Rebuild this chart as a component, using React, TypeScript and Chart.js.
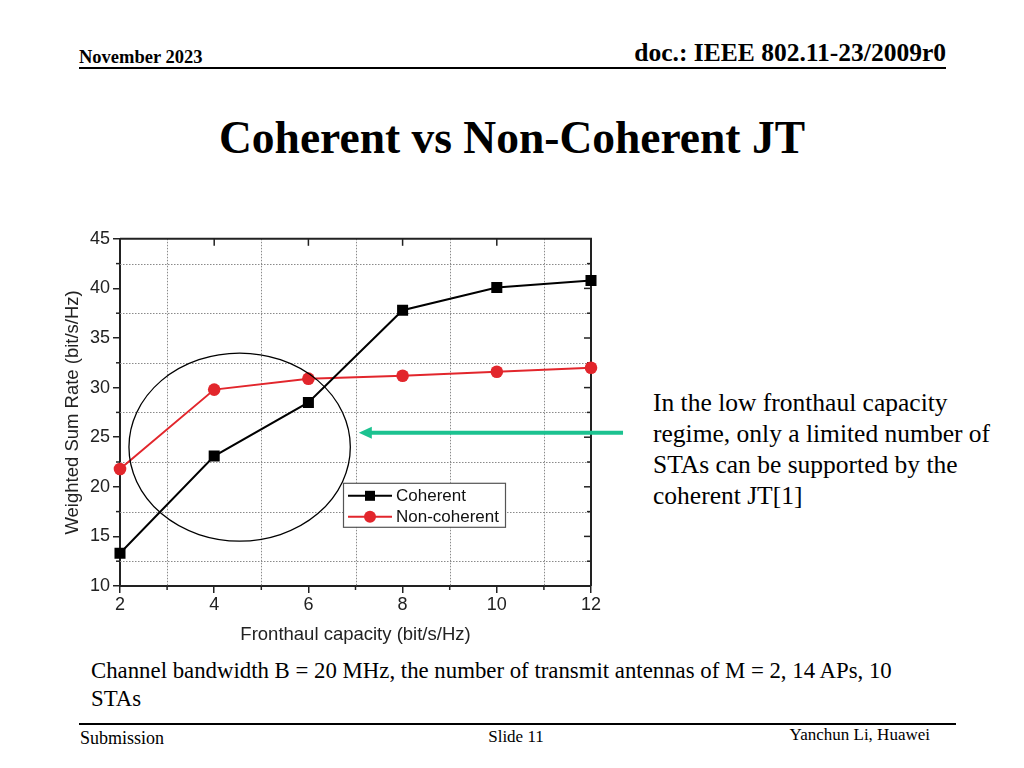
import React, { useEffect, useRef } from "react";
import { Chart, registerables } from "chart.js";

Chart.register(...registerables);

const xValues = [2, 4, 6, 8, 10, 12];
const coherent = [13.3, 23.1, 28.5, 37.8, 40.1, 40.8];
const nonCoherent = [21.8, 29.8, 30.9, 31.2, 31.6, 32.0];
const seriesLabels = ["Coherent", "Non-coherent"];
const xMinorGrid = [3, 5, 7, 9, 11];
const yMinorGrid = [12.5, 17.5, 22.5, 27.5, 32.5, 37.5, 42.5];
const xTitle = "Fronthaul capacity (bit/s/Hz)";
const yTitle = "Weighted Sum Rate (bit/s/Hz)";

const BLACK = "#000000";
const RED = "#e2262c";
const GREEN = "#1cc290";
const SANS = "'Liberation Sans', Arial, sans-serif";
const SERIF = "'Liberation Serif', 'Times New Roman', serif";

const decorPlugin = {
  id: "decor",
  beforeDatasetsDraw(chart: any) {
    const { ctx, chartArea } = chart;
    const xs = chart.scales.x;
    const ys = chart.scales.y;
    ctx.save();
    ctx.strokeStyle = "#8a8a8a";
    ctx.lineWidth = 1;
    ctx.setLineDash([1.5, 1.5]);
    xMinorGrid.forEach((v) => {
      const px = Math.round(xs.getPixelForValue(v)) + 0.5;
      ctx.beginPath();
      ctx.moveTo(px, chartArea.top);
      ctx.lineTo(px, chartArea.bottom);
      ctx.stroke();
    });
    yMinorGrid.forEach((v) => {
      const py = Math.round(ys.getPixelForValue(v)) + 0.5;
      ctx.beginPath();
      ctx.moveTo(chartArea.left, py);
      ctx.lineTo(chartArea.right, py);
      ctx.stroke();
    });
    ctx.setLineDash([]);
    ctx.strokeStyle = "#222";
    ctx.lineWidth = 2;
    ctx.beginPath();
    ctx.moveTo(chartArea.left, chartArea.top);
    ctx.lineTo(chartArea.right, chartArea.top);
    ctx.lineTo(chartArea.right, chartArea.bottom);
    ctx.stroke();
    ctx.lineWidth = 1.5;
    [4, 6, 8, 10].forEach((v) => {
      const px = xs.getPixelForValue(v);
      ctx.beginPath();
      ctx.moveTo(px, chartArea.top);
      ctx.lineTo(px, chartArea.top + 7);
      ctx.stroke();
    });
    xMinorGrid.forEach((v) => {
      const px = xs.getPixelForValue(v);
      ctx.beginPath();
      ctx.moveTo(px, chartArea.bottom);
      ctx.lineTo(px, chartArea.bottom + 4);
      ctx.stroke();
    });
    yMinorGrid.forEach((v) => {
      const py = ys.getPixelForValue(v);
      ctx.beginPath();
      ctx.moveTo(chartArea.left, py);
      ctx.lineTo(chartArea.left - 4, py);
      ctx.stroke();
      ctx.beginPath();
      ctx.moveTo(chartArea.right, py);
      ctx.lineTo(chartArea.right - 4, py);
      ctx.stroke();
    });
    [15, 20, 25, 30, 35, 40].forEach((v) => {
      const py = ys.getPixelForValue(v);
      ctx.beginPath();
      ctx.moveTo(chartArea.right, py);
      ctx.lineTo(chartArea.right - 7, py);
      ctx.stroke();
    });
    ctx.restore();
  },
  afterDraw(chart: any) {
    const { ctx, chartArea } = chart;
    const xs = chart.scales.x;
    const ys = chart.scales.y;
    ctx.save();
    const bx = chartArea.left + 223;
    const by = chartArea.top + 244;
    const bw = 162;
    const bh = 44;
    ctx.fillStyle = "#fff";
    ctx.fillRect(bx, by, bw, bh);
    ctx.strokeStyle = "#555";
    ctx.lineWidth = 1.2;
    ctx.strokeRect(bx + 0.5, by + 0.5, bw, bh);
    const rows = [
      { label: seriesLabels[0], color: BLACK, style: "rect", y: by + 13 },
      { label: seriesLabels[1], color: RED, style: "circle", y: by + 34 },
    ];
    rows.forEach((r) => {
      ctx.strokeStyle = r.color;
      ctx.lineWidth = 2;
      ctx.beginPath();
      ctx.moveTo(bx + 5, r.y);
      ctx.lineTo(bx + 49, r.y);
      ctx.stroke();
      ctx.fillStyle = r.color;
      if (r.style === "rect") {
        ctx.fillRect(bx + 22, r.y - 5, 10, 10);
      } else {
        ctx.beginPath();
        ctx.arc(bx + 27, r.y, 6, 0, Math.PI * 2);
        ctx.fill();
      }
      ctx.fillStyle = "#111";
      ctx.font = `17px ${SANS}`;
      ctx.textBaseline = "middle";
      ctx.textAlign = "left";
      ctx.fillText(r.label, bx + 53, r.y + 1);
    });
    const cx = xs.getPixelForValue(4.54);
    const cy = ys.getPixelForValue(24.0);
    const rx = Math.abs(xs.getPixelForValue(4.54 + 2.35) - cx);
    const ry = Math.abs(ys.getPixelForValue(24.0 + 9.48) - cy);
    ctx.strokeStyle = "#000";
    ctx.lineWidth = 1.3;
    ctx.beginPath();
    ctx.ellipse(cx, cy, rx, ry, 0, 0, Math.PI * 2);
    ctx.stroke();
    const ay = ys.getPixelForValue(25.45);
    const ax1 = xs.getPixelForValue(12.68);
    const ax2 = xs.getPixelForValue(7.07);
    ctx.strokeStyle = GREEN;
    ctx.fillStyle = GREEN;
    ctx.lineWidth = 4;
    ctx.beginPath();
    ctx.moveTo(ax1, ay);
    ctx.lineTo(ax2 + 10, ay);
    ctx.stroke();
    ctx.beginPath();
    ctx.moveTo(ax2, ay);
    ctx.lineTo(ax2 + 13, ay - 6);
    ctx.lineTo(ax2 + 13, ay + 6);
    ctx.closePath();
    ctx.fill();
    ctx.restore();
  },
};

function ChartBox() {
  const ref = useRef<HTMLCanvasElement | null>(null);
  useEffect(() => {
    if (!ref.current) return;
    const chart = new Chart(ref.current, {
      type: "line",
      data: {
        datasets: [
          {
            label: seriesLabels[0],
            data: xValues.map((x, i) => ({ x, y: coherent[i] })),
            borderColor: BLACK,
            backgroundColor: BLACK,
            borderWidth: 2,
            pointStyle: "rect",
            pointRadius: 7.8,
            pointBorderWidth: 0,
            tension: 0,
            clip: 8,
          },
          {
            label: seriesLabels[1],
            data: xValues.map((x, i) => ({ x, y: nonCoherent[i] })),
            borderColor: RED,
            backgroundColor: RED,
            borderWidth: 2,
            pointStyle: "circle",
            pointRadius: 6.3,
            pointBorderWidth: 0,
            tension: 0,
            clip: 8,
          },
        ],
      },
      options: {
        responsive: false,
        animation: false,
        layout: { padding: { top: 12, right: 49, left: 0, bottom: 5 } },
        plugins: { legend: { display: false }, tooltip: { enabled: false } },
        scales: {
          x: {
            type: "linear",
            min: 2,
            max: 12,
            ticks: {
              stepSize: 2,
              color: "#222",
              font: { family: SANS, size: 18 },
              padding: 1,
              maxRotation: 0,
            },
            grid: {
              display: true,
              drawOnChartArea: false,
              drawTicks: true,
              tickLength: 7,
              color: "#222",
              lineWidth: 1.5,
            },
            border: { color: "#222", width: 2 },
            title: {
              display: true,
              text: xTitle,
              color: "#222",
              font: { family: SANS, size: 18.5 },
            },
            afterFit: (s: any) => {
              s.height = 64;
            },
          },
          y: {
            type: "linear",
            min: 10,
            max: 45,
            ticks: {
              stepSize: 5,
              color: "#222",
              font: { family: SANS, size: 18 },
              padding: 3,
            },
            grid: {
              display: true,
              drawOnChartArea: false,
              drawTicks: true,
              tickLength: 7,
              color: "#222",
              lineWidth: 1.5,
            },
            border: { color: "#222", width: 2 },
            title: {
              display: true,
              text: yTitle,
              color: "#222",
              font: { family: SANS, size: 18.5 },
              padding: { top: 2, bottom: 4 },
            },
            afterFit: (s: any) => {
              s.width = 60;
            },
          },
        },
      },
      plugins: [decorPlugin],
    } as any);
    return () => chart.destroy();
  }, []);
  return (
    <canvas
      ref={ref}
      width={580}
      height={430}
      style={{ position: "absolute", left: 60, top: 225, width: 580, height: 430 }}
    />
  );
}

function Txt(props: {
  x: number;
  cy: number;
  size: number;
  lh?: number;
  bold?: boolean;
  align?: "left" | "right" | "center";
  children: React.ReactNode;
}) {
  const lh = props.lh ?? Math.round(props.size * 1.3);
  const style: React.CSSProperties = {
    position: "absolute",
    top: props.cy - lh / 2,
    fontFamily: SERIF,
    fontSize: props.size,
    lineHeight: `${lh}px`,
    fontWeight: props.bold ? "bold" : "normal",
    color: "#000",
    whiteSpace: "pre",
  };
  if (props.align === "right") {
    style.right = 1024 - props.x;
    style.textAlign = "right";
  } else if (props.align === "center") {
    style.left = props.x - 450;
    style.width = 900;
    style.textAlign = "center";
  } else {
    style.left = props.x;
  }
  return <div style={style}>{props.children}</div>;
}

export default function App() {
  return (
    <div
      style={{
        position: "fixed",
        left: 0,
        top: 0,
        width: 1024,
        height: 768,
        background: "#fff",
        overflow: "hidden",
      }}
    >
      <Txt x={79} cy={57} size={18.5} bold>
        November 2023
      </Txt>
      <Txt x={946} cy={52} size={25.5} bold align="right">
        doc.: IEEE 802.11-23/2009r0
      </Txt>
      <div style={{ position: "absolute", left: 79, top: 67, width: 867, height: 1.5, background: "#000" }} />
      <Txt x={512} cy={138} size={45.5} bold align="center" lh={54}>
        Coherent vs Non-Coherent JT
      </Txt>
      <ChartBox />
      <Txt x={653} cy={402} size={25.5} lh={31}>
        {"In the low fronthaul capacity\nregime, only a limited number of\nSTAs can be supported by the\ncoherent JT[1]"}
      </Txt>
      <Txt x={91} cy={671} size={22.8} lh={28}>
        {"Channel bandwidth B = 20 MHz, the number of transmit antennas of M = 2, 14 APs, 10\nSTAs"}
      </Txt>
      <div style={{ position: "absolute", left: 79, top: 723, width: 877, height: 1.5, background: "#000" }} />
      <Txt x={80} cy={738} size={18}>
        Submission
      </Txt>
      <Txt x={516} cy={737} size={17} align="center">
        Slide 11
      </Txt>
      <Txt x={930} cy={735} size={17} align="right">
        Yanchun Li, Huawei
      </Txt>
    </div>
  );
}
